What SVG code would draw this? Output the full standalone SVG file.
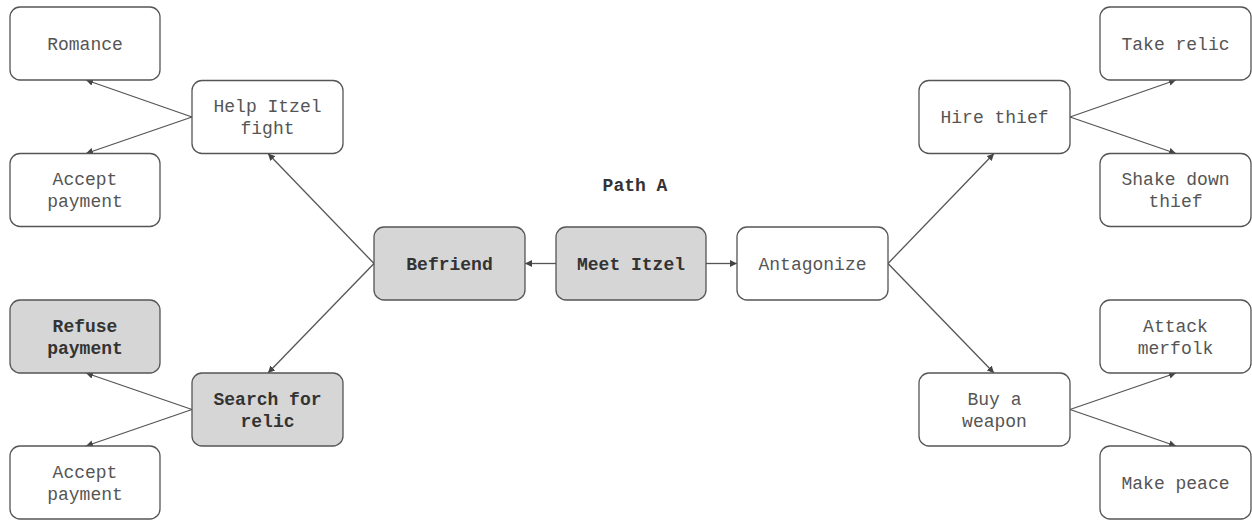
<svg xmlns="http://www.w3.org/2000/svg" width="1252" height="520" viewBox="0 0 1252 520">
<style>
.box{fill:#fff;stroke:#555;stroke-width:1.3}
.hi{fill:#d6d6d6}
text{font-family:"Liberation Mono","DejaVu Sans Mono",monospace;font-size:18px;fill:#555;text-anchor:middle;dominant-baseline:central}
.b{font-weight:bold;fill:#333}
.edge{stroke:#555;stroke-width:1.3;fill:none;marker-end:url(#arr)}
</style>
<defs>
<marker id="arr" viewBox="0 0 10 10" refX="10" refY="5" markerWidth="7" markerHeight="7" markerUnits="userSpaceOnUse" orient="auto">
<path d="M0,0 L10,5 L0,10 z" fill="#444"/>
</marker>
</defs>
<rect width="1252" height="520" fill="#fff"/>
<text class="b" x="635" y="186">Path A</text>
<g id="connectors">
<line class="edge" x1="556" y1="263.5" x2="525" y2="263.5"/>
<line class="edge" x1="706" y1="263.5" x2="737" y2="263.5"/>
<line class="edge" x1="374" y1="263.5" x2="268" y2="153.5"/>
<line class="edge" x1="374" y1="263.5" x2="268" y2="373"/>
<line class="edge" x1="192" y1="117" x2="86" y2="80"/>
<line class="edge" x1="192" y1="117" x2="86" y2="153.5"/>
<line class="edge" x1="192" y1="409.5" x2="86" y2="373"/>
<line class="edge" x1="192" y1="409.5" x2="86" y2="446"/>
<line class="edge" x1="888" y1="263.5" x2="994" y2="153.5"/>
<line class="edge" x1="888" y1="263.5" x2="994" y2="373"/>
<line class="edge" x1="1070" y1="117" x2="1176" y2="80"/>
<line class="edge" x1="1070" y1="117" x2="1176" y2="153.5"/>
<line class="edge" x1="1070" y1="409.5" x2="1176" y2="373"/>
<line class="edge" x1="1070" y1="409.5" x2="1176" y2="446"/>
</g>
<g id="meet"><rect class="box hi" x="556" y="227" width="150" height="73" rx="10"/><text class="b" x="631" y="264.5">Meet Itzel</text></g>
<g id="befriend"><rect class="box hi" x="374" y="227" width="151" height="73" rx="10"/><text class="b" x="449.5" y="264.5">Befriend</text></g>
<g id="antagonize"><rect class="box" x="737" y="227" width="151" height="73" rx="10"/><text x="812.5" y="264.5">Antagonize</text></g>
<g id="help"><rect class="box" x="192" y="80.5" width="151" height="73" rx="10"/><text x="267.5" y="107">Help Itzel</text><text x="267.5" y="129">fight</text></g>
<g id="search"><rect class="box hi" x="192" y="373" width="151" height="73" rx="10"/><text class="b" x="267.5" y="399.5">Search for</text><text class="b" x="267.5" y="421.5">relic</text></g>
<g id="romance"><rect class="box" x="10" y="7" width="150" height="73" rx="10"/><text x="85" y="44.5">Romance</text></g>
<g id="accept1"><rect class="box" x="10" y="153.5" width="150" height="73" rx="10"/><text x="85" y="180">Accept</text><text x="85" y="202">payment</text></g>
<g id="refuse"><rect class="box hi" x="10" y="300" width="150" height="73" rx="10"/><text class="b" x="85" y="326.5">Refuse</text><text class="b" x="85" y="348.5">payment</text></g>
<g id="accept2"><rect class="box" x="10" y="446" width="150" height="73" rx="10"/><text x="85" y="472.5">Accept</text><text x="85" y="494.5">payment</text></g>
<g id="hire"><rect class="box" x="919" y="80.5" width="151" height="73" rx="10"/><text x="994.5" y="118">Hire thief</text></g>
<g id="buy"><rect class="box" x="919" y="373" width="151" height="73" rx="10"/><text x="994.5" y="399.5">Buy a</text><text x="994.5" y="421.5">weapon</text></g>
<g id="take"><rect class="box" x="1100" y="7" width="151" height="73" rx="10"/><text x="1175.5" y="44.5">Take relic</text></g>
<g id="shake"><rect class="box" x="1100" y="153.5" width="151" height="73" rx="10"/><text x="1175.5" y="180">Shake down</text><text x="1175.5" y="202">thief</text></g>
<g id="attack"><rect class="box" x="1100" y="300" width="151" height="73" rx="10"/><text x="1175.5" y="326.5">Attack</text><text x="1175.5" y="348.5">merfolk</text></g>
<g id="peace"><rect class="box" x="1100" y="446" width="151" height="73" rx="10"/><text x="1175.5" y="483.5">Make peace</text></g>
</svg>
